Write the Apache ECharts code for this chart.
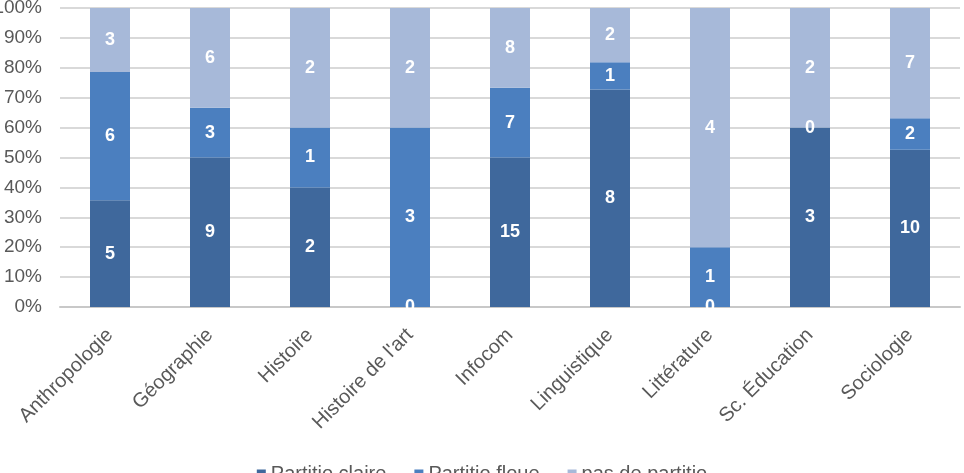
<!DOCTYPE html>
<html>
<head>
<meta charset="utf-8">
<script src="https://cdn.jsdelivr.net/npm/echarts@6/dist/echarts.min.js"></script>
<style>
  html, body { margin: 0; padding: 0; background: #fff; }
  #chart { width: 964px; height: 473px; }
</style>
</head>
<body>
<div id="chart"></div>
<script>
// disciplines
const categories = ['Anthropologie', 'Géographie', 'Histoire', "Histoire de l'art", 'Infocom', 'Linguistique', 'Littérature', 'Sc. Éducation', 'Sociologie']
// counts per category
const partitioClaire = [5, 9, 2, 0, 15, 8, 0, 3, 10]
const partitioFloue = [6, 3, 1, 3, 7, 1, 1, 0, 2]
const pasDePartitio = [3, 6, 2, 2, 8, 2, 4, 2, 7]
const yTicks = [0, 10, 20, 30, 40, 50, 60, 70, 80, 90, 100]

const totals = categories.map((c, i) => partitioClaire[i] + partitioFloue[i] + pasDePartitio[i])
const toPct = arr => arr.map((v, i) => ({ value: v / totals[i] * 100, count: v }))

const colors = ['#3f689c', '#4b7fbf', '#a7b9d9']
const font = 'Liberation Sans, Arial, sans-serif'

const makeSeries = (name, arr, color) => ({
  name,
  type: 'bar',
  stack: 'total',
  barWidth: 40,
  data: toPct(arr),
  itemStyle: { color },
  label: {
    show: true,
    position: 'inside',
    color: '#fff',
    fontFamily: font,
    fontWeight: 'bold',
    fontSize: 18,
    formatter: p => p.data.count
  }
})

const chart = echarts.init(document.getElementById('chart'))
chart.setOption({
  animation: false,
  grid: { left: 60, right: 4, top: 8, bottom: 166, containLabel: false, outerBoundsMode: 'none' },
  legend: {
    top: 459,
    left: 'center',
    itemWidth: 9,
    itemHeight: 9,
    itemGap: 28,
    icon: 'rect',
    textStyle: { color: '#595959', fontSize: 20, fontFamily: font },
    data: ['Partitio claire', 'Partitio floue', 'pas de partitio']
  },
  xAxis: {
    type: 'category',
    data: categories,
    axisLine: { lineStyle: { color: '#c8c8c8', width: 2 } },
    axisTick: { show: false },
    axisLabel: {
      rotate: 45,
      interval: 0,
      margin: 25,
      color: '#595959',
      fontSize: 20,
      fontFamily: font
    }
  },
  yAxis: {
    type: 'value',
    min: yTicks[0],
    max: yTicks[yTicks.length - 1],
    interval: 10,
    axisLine: { show: false },
    axisTick: { show: false },
    splitLine: { lineStyle: { color: '#d9d9d9', width: 2 } },
    axisLabel: {
      margin: 18,
      color: '#595959',
      fontSize: 19,
      fontFamily: font,
      formatter: v => v + '%'
    }
  },
  series: [
    makeSeries('Partitio claire', partitioClaire, colors[0]),
    makeSeries('Partitio floue', partitioFloue, colors[1]),
    makeSeries('pas de partitio', pasDePartitio, colors[2])
  ]
})
</script>
</body>
</html>
